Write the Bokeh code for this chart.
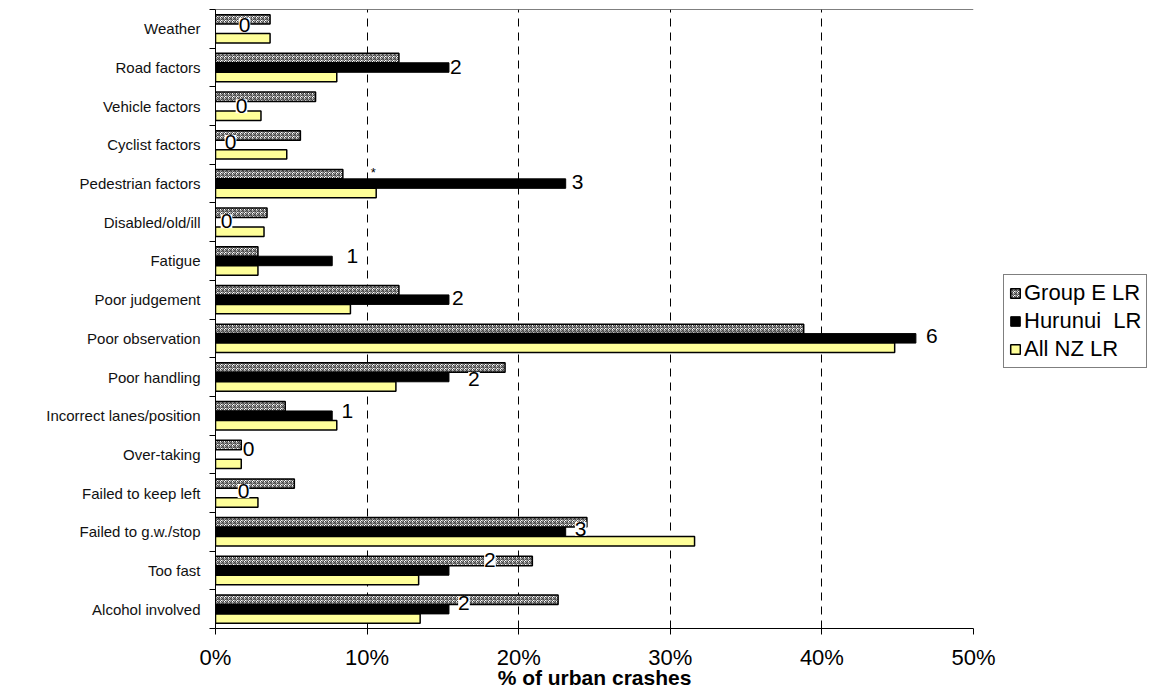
from bokeh.plotting import figure
from bokeh.models import (Range1d, FixedTicker, CustomJSTickFormatter, Legend, LegendItem,
                          ColumnDataSource, Span)
from bokeh.core.properties import value
from bokeh.embed import file_html
from bokeh.resources import INLINE

# ---------------- data ----------------
categories = ["Weather", "Road factors", "Vehicle factors", "Cyclist factors",
              "Pedestrian factors", "Disabled/old/ill", "Fatigue", "Poor judgement",
              "Poor observation", "Poor handling", "Incorrect lanes/position",
              "Over-taking", "Failed to keep left", "Failed to g.w./stop",
              "Too fast", "Alcohol involved"]
group_e = [3.6, 12.1, 6.6, 5.6, 8.4, 3.4, 2.8, 12.1, 38.8, 19.1, 4.6, 1.7, 5.2, 24.5, 20.9, 22.6]
hurunui = [0, 15.4, 0, 0, 23.1, 0, 7.7, 15.4, 46.2, 15.4, 7.7, 0, 0, 23.1, 15.4, 15.4]
all_nz = [3.6, 8.0, 3.0, 4.7, 10.6, 3.2, 2.8, 8.9, 44.8, 11.9, 8.0, 1.7, 2.8, 31.6, 13.4, 13.5]
hurunui_counts = [0, 2, 0, 0, 3, 0, 1, 2, 6, 2, 1, 0, 0, 3, 2, 2]
series_names = ["Group E LR", "Hurunui  LR", "All NZ LR"]
x_ticks = [0, 10, 20, 30, 40, 50]

# label nudges (screen px) for the count labels, as placed in the original
label_dx = [29, 7, 26, 15, 12, 11, 20, 9, 16, 25, 15, 33, 28, 15, 41, 15]
label_dy = [-4, -1, 0, -3, -2, -1, -5, -2, -2, 2, -5, -5, -2, -3, -10, -6]

FONT = "Liberation Sans"
n = len(categories)
centers = [n - 1 - i + 0.5 for i in range(n)]
bar_h = 0.245

src = ColumnDataSource(dict(
    cat=categories, y=centers,
    y_ge=[c + bar_h for c in centers], y_nz=[c - bar_h for c in centers],
    ge=group_e, hu=hurunui, nz=all_nz,
    cnt=[str(c) for c in hurunui_counts], dx=label_dx, dy=label_dy,
))

p = figure(frame_width=758, frame_height=619,
           x_range=Range1d(0, 50), y_range=Range1d(0, n),
           output_backend="svg", toolbar_location=None,
           min_border_left=215, min_border_top=9, min_border_right=190, min_border_bottom=5)
p.outline_line_color = None
p.background_fill_color = "white"
p.border_fill_color = "white"

# grid
p.xgrid.ticker = FixedTicker(ticks=x_ticks[1:])
p.xgrid.grid_line_color = "black"
p.xgrid.grid_line_dash = "8 6"
p.xgrid.grid_line_width = 1
p.ygrid.visible = False

p.add_layout(Span(location=n, dimension="width", line_color="black", line_width=1))

# bars
r_hu = p.hbar(y="y", left=0, right="hu", height=bar_h, source=src,
              fill_color="black", line_color="black", line_width=1)
r_ge = p.hbar(y="y_ge", left=0, right="ge", height=bar_h, source=src,
              fill_color="white", hatch_pattern="criss_cross", hatch_color="#444444",
              hatch_scale=4, hatch_weight=1, line_color="black", line_width=1.5)
r_nz = p.hbar(y="y_nz", left=0, right="nz", height=bar_h, source=src,
              fill_color="#FFFF99", line_color="black", line_width=1.5)

# count labels
p.text(x="hu", y="y", text="cnt", x_offset="dx", y_offset="dy", source=src,
       text_align="center", text_baseline="middle", text_font=value(FONT),
       text_font_size="21px", text_color="black", background_fill_color="white")

# asterisk note near pedestrian factors
p.text(x=[all_nz[4]], y=[centers[4] + bar_h], text=["*"], x_offset=-3, y_offset=-2,
       text_align="center", text_baseline="middle", text_font=value(FONT),
       text_font_size="13px", text_color="black")

# x axis
xa = p.xaxis[0]
xa.ticker = FixedTicker(ticks=x_ticks)
xa.formatter = CustomJSTickFormatter(code="return tick.toFixed(0) + '%';")
xa.major_tick_out = 6
xa.major_tick_in = 0
xa.minor_tick_line_color = None
xa.axis_line_color = "black"
xa.major_tick_line_color = "black"
xa.major_label_text_font = FONT
xa.major_label_text_font_size = "22px"
xa.major_label_text_color = "black"
xa.major_label_standoff = 10
xa.axis_label = "% of urban crashes"
xa.axis_label_text_font = FONT
xa.axis_label_text_font_style = "bold"
xa.axis_label_text_font_size = "21px"
xa.axis_label_text_color = "black"
xa.axis_label_standoff = -7

# y axis
ya = p.yaxis[0]
ya.ticker = FixedTicker(ticks=centers, minor_ticks=list(range(n + 1)))
ya.formatter = CustomJSTickFormatter(args=dict(names=categories[::-1]),
                                     code="return names[Math.floor(tick)];")
ya.major_tick_line_color = None
ya.major_tick_out = 0
ya.major_tick_in = 0
ya.minor_tick_out = 6
ya.minor_tick_in = 0
ya.minor_tick_line_color = "black"
ya.axis_line_color = "black"
ya.major_label_text_font = FONT
ya.major_label_text_font_size = "15px"
ya.major_label_text_color = "#111111"
ya.major_label_standoff = 9

legend = Legend(items=[LegendItem(label=series_names[0], renderers=[r_ge]),
                       LegendItem(label=series_names[1], renderers=[r_hu]),
                       LegendItem(label=series_names[2], renderers=[r_nz])],
                location=(30, 260))
legend.border_line_color = "black"
legend.border_line_width = 1
legend.background_fill_color = "white"
legend.background_fill_alpha = 1
legend.label_text_font = FONT
legend.label_text_font_size = "22px"
legend.label_text_color = "black"
legend.glyph_width = 12
legend.glyph_height = 12
legend.label_standoff = 3
legend.spacing = 2
legend.padding = 5
legend.margin = 0
p.add_layout(legend, "right")

open("out.html", "w").write(file_html(p, INLINE))
